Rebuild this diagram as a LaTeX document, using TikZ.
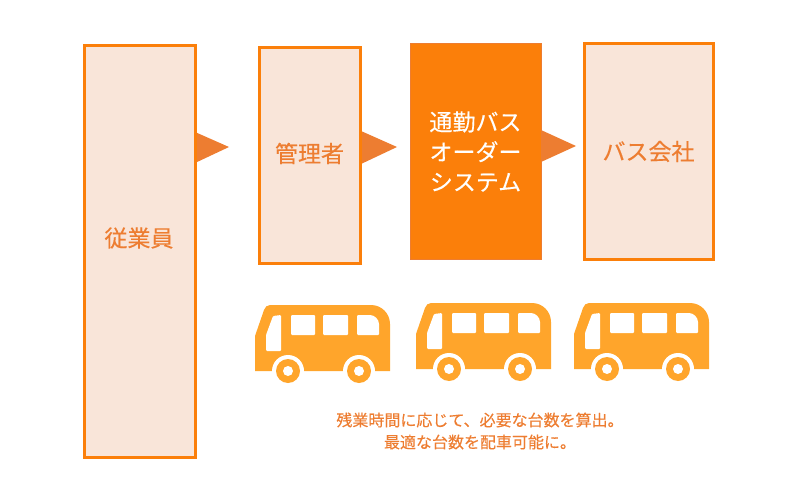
\documentclass[tikz,border=0pt]{standalone}
\usepackage{fontspec}
\setmainfont{Noto Sans CJK JP}[FakeBold=0.25]
\definecolor{boxfill}{HTML}{F9E5D9}
\definecolor{boxline}{HTML}{FB7F0A}
\definecolor{arrowfill}{HTML}{ED7D31}
\definecolor{busfill}{HTML}{FFA52B}
\tikzset{
	boxnode/.style={draw=boxline,fill=boxfill,line width=3pt,minimum width=#1,inner sep=0pt,text=arrowfill,font=\fontsize{23}{30}\selectfont},
	sysnode/.style={draw=arrowfill,fill=boxline,line width=1pt,minimum width=#1,inner sep=0pt,text=white,align=center,font=\fontsize{23}{30}\selectfont},
	notenode/.style={text=arrowfill,align=center,inner sep=0pt,font=\fontsize{16}{22}\selectfont},
	buspic/.pic={
		% body
		\fill[busfill] (0,66) -- (0,31) -- (9,5) to[out=70,in=180] (15,0) -- (116,0)
			to[out=0,in=90] (135,19) -- (135,66) --cycle;
		% windows
		\fill[white,rounded corners=1pt] (11,46) -- (11,30) -- (18,11) -- (26,10) -- (26,46) --cycle;
		\fill[white,rounded corners=1pt] (36,10) rectangle (60,30);
		\fill[white,rounded corners=1pt] (68,10) rectangle (93,30);
		\fill[white,rounded corners=1pt] (102,30) -- (102,10) -- (114,10)
			to[out=0,in=90] (124,20) -- (124,30) --cycle;
		% wheels
		\fill[white] (33,66) circle (16) (104,66) circle (16);
		\fill[busfill] (33,66) circle (12) (104,66) circle (12);
		\fill[white] (33,66) circle (5) (104,66) circle (5);
	}
}
\begin{document}
\begin{tikzpicture}[x=1pt,y=-1pt]
	\useasboundingbox (0,0) rectangle (800,500);

	% arrows between the boxes
	\fill[arrowfill] (195,132) -- (229,147) -- (195,163) --cycle;
	\fill[arrowfill] (361,131) -- (397,147) -- (361,164) --cycle;
	\fill[arrowfill] (541,130) -- (576,146) -- (541,162) --cycle;

	% boxes
	\node[boxnode=111pt,minimum height=411pt] (staff) at (139.5,251.5) {};
	\node[boxnode=100.5pt,minimum height=215pt] (manager) at (309.75,155.5) {};
	\node[sysnode=131pt,minimum height=215pt] (system) at (475.5,151.5) {通勤バス\\オーダー\\システム};
	\node[boxnode=129pt,minimum height=215pt] (company) at (648.5,151.5) {バス会社};

	% box texts
	\node[boxnode=70pt,draw=none,fill=none] (stafftext) at (139,238) {従業員};
	\node[boxnode=70pt,draw=none,fill=none] (managertext) at (309.5,153.5) {管理者};

	% buses
	\pic at (255,305) {buspic};
	\pic at (416,303) {buspic};
	\pic at (574,303) {buspic};

	% note
	\node[notenode] (note) at (480,431) {残業時間に応じて、必要な台数を算出。\\最適な台数を配車可能に。};

\end{tikzpicture}
\end{document}
